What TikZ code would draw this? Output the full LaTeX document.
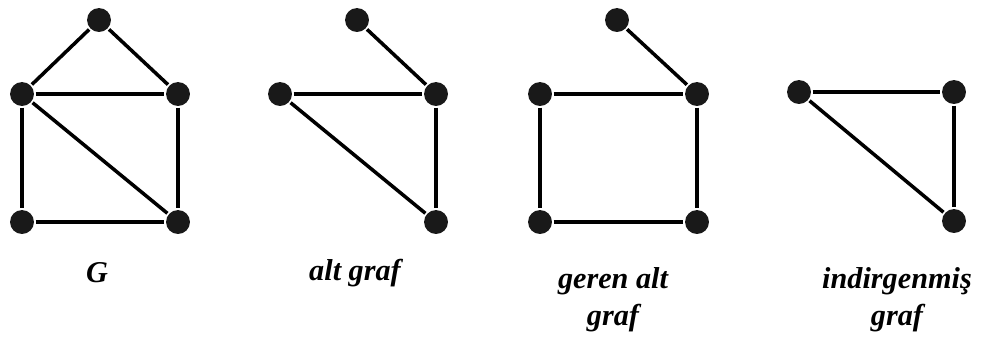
\documentclass[tikz,border=0pt]{standalone}
\usepackage{fontspec}
\setmainfont{Liberation Serif}
\begin{document}
\begin{tikzpicture}[x=0.025cm,y=-0.025cm,line width=2.5pt,
  v/.style={circle,fill=black!90,inner sep=0pt,minimum size=17pt},
  lbl/.style={font=\fontsize{21.5}{26}\selectfont\bfseries\itshape,align=center}]
  \useasboundingbox (0,0) rectangle (992,338);
  % G
  \node[v] (g1) at (99,20) {};
  \node[v] (g2) at (22,94) {};
  \node[v] (g3) at (178,94) {};
  \node[v] (g4) at (22,222) {};
  \node[v] (g5) at (178,222) {};
  \foreach \a/\b in {g1/g2,g1/g3,g2/g3,g2/g4,g2/g5,g3/g5,g4/g5} \draw (\a)--(\b);
  % alt graf
  \node[v] (a1) at (357,20) {};
  \node[v] (a2) at (280,94) {};
  \node[v] (a3) at (436,94) {};
  \node[v] (a4) at (436,222) {};
  \foreach \a/\b in {a1/a3,a2/a3,a2/a4,a3/a4} \draw (\a)--(\b);
  % geren alt graf
  \node[v] (s1) at (617,20) {};
  \node[v] (s2) at (540,94) {};
  \node[v] (s3) at (697,94) {};
  \node[v] (s4) at (540,222) {};
  \node[v] (s5) at (697,222) {};
  \foreach \a/\b in {s1/s3,s2/s3,s2/s4,s3/s5,s4/s5} \draw (\a)--(\b);
  % indirgenmis graf
  \node[v] (i1) at (799,92) {};
  \node[v] (i2) at (954,92) {};
  \node[v] (i3) at (954,221) {};
  \foreach \a/\b in {i1/i2,i1/i3,i2/i3} \draw (\a)--(\b);
  % etiketler
  \node[lbl] (lg) at (97,273) {G};
  \node[lbl] (la) at (355,273) {alt graf};
  \node[lbl] (ls) at (613,300) {geren alt\\graf};
  \node[lbl] (li) at (897,300) {indirgenmiş\\graf};
\end{tikzpicture}
\end{document}
